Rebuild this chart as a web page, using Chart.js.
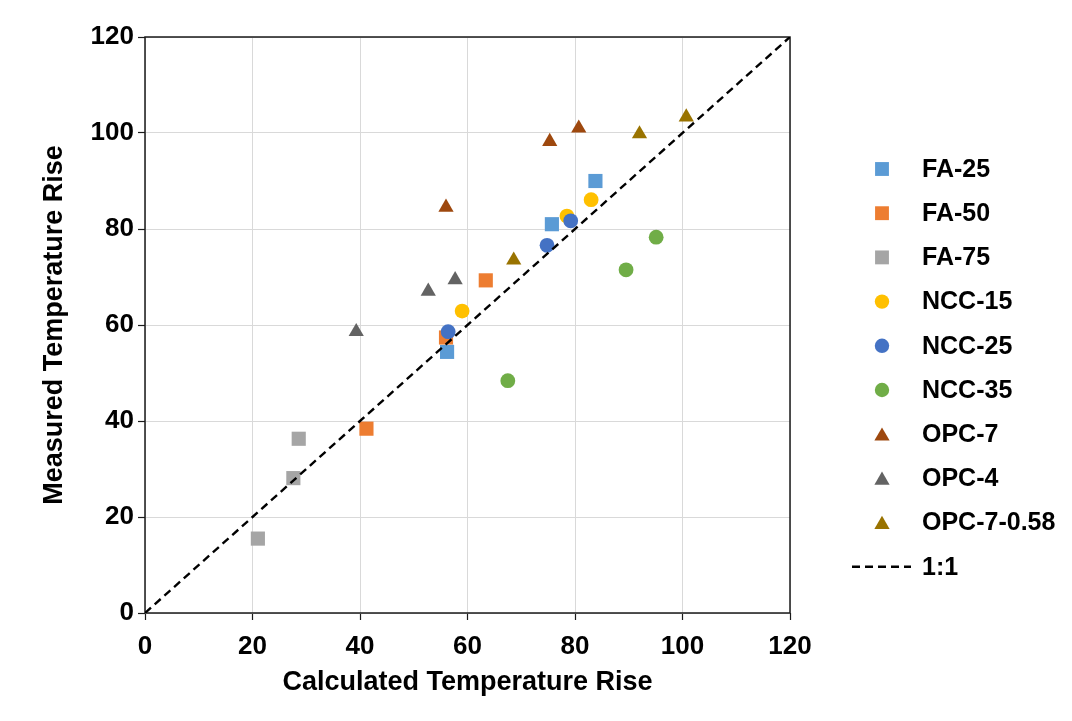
<!DOCTYPE html>
<html>
<head>
<meta charset="utf-8">
<script src="https://cdn.jsdelivr.net/npm/chart.js@4.4.1/dist/chart.umd.min.js"></script>
<style>
html,body{margin:0;padding:0;background:#fff;}
#wrap{width:1072px;height:721px;position:relative;}
</style>
</head>
<body>
<div id="wrap"><canvas id="c" width="1072" height="721"></canvas></div>
<script>
// ---- data ----
const seriesNames  = ['FA-25','FA-50','FA-75','NCC-15','NCC-25','NCC-35','OPC-7','OPC-4','OPC-7-0.58'];
const seriesColors = ['#5B9BD5','#ED7D31','#A5A5A5','#FFC000','#4472C4','#70AD47','#9E480E','#636363','#997300'];
const seriesStyles = ['rect','rect','rect','circle','circle','circle','triangle','triangle','triangle'];

const fa25X  = [56.2, 75.7, 83.8];  const fa25Y  = [54.4, 81.0, 90.0];
const fa50X  = [41.2, 56.0, 63.4];  const fa50Y  = [38.4, 57.4, 69.3];
const fa75X  = [21.0, 27.6, 28.6];  const fa75Y  = [15.5, 28.1, 36.3];
const ncc15X = [59.0, 78.5, 83.0];  const ncc15Y = [62.9, 82.7, 86.1];
const ncc25X = [56.4, 74.8, 79.2];  const ncc25Y = [58.6, 76.6, 81.7];
const ncc35X = [67.5, 89.5, 95.1];  const ncc35Y = [48.4, 71.5, 78.3];
const opc7X  = [56.0, 75.3, 80.7];  const opc7Y  = [84.5, 98.2, 101.0];
const opc4X  = [39.3, 52.7, 57.7];  const opc4Y  = [58.6, 67.0, 69.4];
const opc758X= [68.6, 92.0, 100.7]; const opc758Y= [73.5, 99.8, 103.3];

const lineX = [0, 120];
const lineY = [0, 120];
const axisTicks = [0, 20, 40, 60, 80, 100, 120];

const seriesX = [fa25X, fa50X, fa75X, ncc15X, ncc25X, ncc35X, opc7X, opc4X, opc758X];
const seriesY = [fa25Y, fa50Y, fa75Y, ncc15Y, ncc25Y, ncc35Y, opc7Y, opc4Y, opc758Y];

// ---- styling ----
const FONT = '"Liberation Sans", Arial, sans-serif';
const radiusFor = s => s === 'rect' ? 10 : (s === 'circle' ? 7.4 : 8.8);

const pts = (xs, ys) => xs.map((x, i) => ({x: x, y: ys[i]}));

const datasets = [{
  label: '1:1',
  data: pts(lineX, lineY),
  showLine: true,
  borderColor: '#000',
  borderWidth: 2.4,
  borderDash: [8, 5],
  pointRadius: 0,
  fill: false,
  order: -1
}];
seriesNames.forEach((n, i) => {
  datasets.push({
    label: n,
    data: pts(seriesX[i], seriesY[i]),
    pointStyle: seriesStyles[i],
    pointRadius: radiusFor(seriesStyles[i]),
    pointHoverRadius: radiusFor(seriesStyles[i]),
    backgroundColor: seriesColors[i],
    borderColor: seriesColors[i],
    borderWidth: 0,
    order: seriesNames.length - i
  });
});

const frame = {
  id: 'frame',
  beforeDatasetsDraw(chart) {
    const {ctx, chartArea: a} = chart;
    ctx.save();
    ctx.strokeStyle = '#1a1a1a';
    ctx.lineWidth = 1.5;
    ctx.strokeRect(a.left, a.top, a.right - a.left, a.bottom - a.top);
    ctx.restore();
  }
};

const legendPlugin = {
  id: 'customLegend',
  afterDraw(chart) {
    const ctx = chart.ctx;
    const mx = 882, tx = 922, y0 = 169, step = 44.2;
    ctx.save();
    ctx.font = 'bold 25px ' + FONT;
    ctx.textBaseline = 'middle';
    ctx.textAlign = 'left';
    const ds = chart.data.datasets.filter(d => d.label !== '1:1');
    ds.forEach((d, i) => {
      const y = y0 + i * step;
      ctx.fillStyle = d.backgroundColor;
      const r = d.pointStyle === 'rect' ? 9.8 : (d.pointStyle === 'circle' ? 7.2 : 8.8);
      Chart.helpers.drawPoint(ctx, {pointStyle: d.pointStyle, radius: r, borderWidth: 0, rotation: 0},
        mx, d.pointStyle === 'triangle' ? y + 2 : y);
      ctx.fillStyle = '#000';
      ctx.fillText(d.label, tx, y + 1);
    });
    const ly = y0 + ds.length * step;
    ctx.strokeStyle = '#000';
    ctx.lineWidth = 2.4;
    ctx.setLineDash([8, 5]);
    ctx.beginPath();
    ctx.moveTo(852, ly);
    ctx.lineTo(911, ly);
    ctx.stroke();
    ctx.setLineDash([]);
    ctx.fillStyle = '#000';
    ctx.fillText('1:1', tx, ly + 1);
    ctx.restore();
  }
};

const tickFont = {family: FONT, size: 26, weight: 'bold'};
const titleFont = {family: FONT, size: 27, weight: 'bold'};
const setTicks = s => { s.ticks = axisTicks.map(v => ({value: v})); };

new Chart(document.getElementById('c'), {
  type: 'scatter',
  data: {datasets: datasets},
  options: {
    responsive: false,
    animation: false,
    devicePixelRatio: 1,
    layout: {padding: {left: 38, top: 37, right: 282, bottom: 22}},
    plugins: {legend: {display: false}, tooltip: {enabled: false}},
    scales: {
      x: {
        type: 'linear', min: 0, max: 120,
        afterBuildTicks: setTicks,
        afterFit: s => { s.height = 86; },
        ticks: {font: tickFont, color: '#000', padding: 11, maxRotation: 0},
        grid: {color: '#d9d9d9', lineWidth: 1, tickColor: '#1a1a1a', tickLength: 7, tickWidth: 1.2},
        border: {display: false},
        title: {display: true, text: 'Calculated Temperature Rise', font: titleFont, color: '#000', padding: 0}
      },
      y: {
        type: 'linear', min: 0, max: 120,
        afterBuildTicks: setTicks,
        afterFit: s => { s.width = 107; },
        ticks: {font: tickFont, color: '#000', padding: 4},
        grid: {color: '#d9d9d9', lineWidth: 1, tickColor: '#1a1a1a', tickLength: 7, tickWidth: 1.2},
        border: {display: false},
        title: {display: true, text: 'Measured Temperature Rise', font: titleFont, color: '#000', padding: 0}
      }
    }
  },
  plugins: [frame, legendPlugin]
});
</script>
</body>
</html>
